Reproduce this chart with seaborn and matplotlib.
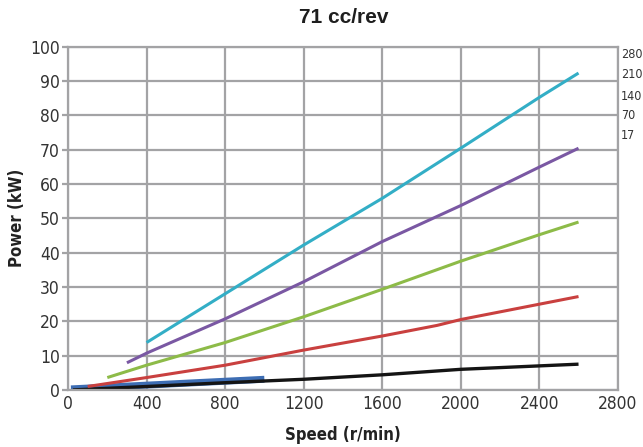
import matplotlib
matplotlib.use("Agg")
import matplotlib.pyplot as plt
from matplotlib import font_manager
import numpy as np
import pandas as pd
import seaborn as sns

# Power curves at several pressures (speed in r/min, power in kW)
speed_280 = [400, 1200, 1600, 2000, 2400, 2600]
power_280 = [13.8, 42.2, 55.8, 70.4, 85.2, 92.3]

speed_210 = [300, 400, 800, 1200, 1600, 2000, 2400, 2600]
power_210 = [7.9, 10.7, 20.7, 31.5, 43.2, 53.7, 64.9, 70.4]

speed_140 = [200, 400, 800, 1200, 1600, 2000, 2400, 2600]
power_140 = [3.6, 7.2, 13.8, 21.3, 29.3, 37.5, 45.2, 48.9]

speed_70 = [100, 400, 800, 1200, 1600, 1880, 2000, 2600]
power_70 = [1.0, 3.6, 7.2, 11.6, 15.7, 18.8, 20.5, 27.2]

speed_17 = [25, 400, 800, 1200, 1600, 2000, 2600]
power_17 = [0.0, 1.0, 2.1, 3.1, 4.4, 6.0, 7.5]

speed_low = [15, 1000]
power_low = [0.3, 3.1]

pressure_labels = ["280", "210", "140", "70", "17"]
x_ticks = [0, 400, 800, 1200, 1600, 2000, 2400, 2800]
y_ticks = [0, 10, 20, 30, 40, 50, 60, 70, 80, 90, 100]

sns.set_theme(style="white")

names = {f.name for f in font_manager.fontManager.ttflist}
if "Liberation Sans Narrow" in names:
    narrow = dict(family="Liberation Sans Narrow")
else:
    narrow = dict(family="DejaVu Sans", stretch="condensed")

fig = plt.figure(figsize=(6.43, 4.47), dpi=100)
ax = fig.add_axes([0.1058, 0.1277, 0.855, 0.768])

grid_c = "#a3a3a5"
ax.set_xlim(0, 2800)
ax.set_ylim(0, 100)
ax.set_xticks(x_ticks)
ax.set_yticks(y_ticks)
ax.grid(True, color=grid_c, linewidth=1.6)
for s in ax.spines.values():
    s.set_color(grid_c)
    s.set_linewidth(1.6)
ax.tick_params(axis="y", length=4, width=1.6, color=grid_c, direction="out", left=True, pad=2)
ax.tick_params(axis="x", length=0, pad=4)

series = [
    (speed_low, power_low, "#3d6db3", 5.0),
    (speed_17, power_17, "#141414", 2.4),
    (speed_70, power_70, "#c9403f", 2.2),
    (speed_140, power_140, "#8dbb48", 2.2),
    (speed_210, power_210, "#7a58a3", 2.2),
    (speed_280, power_280, "#33aec6", 2.2),
]
for xs, ys, col, lw in series:
    df = pd.DataFrame({"speed": xs, "power": ys})
    sns.lineplot(data=df, x="speed", y="power", color=col, linewidth=lw,
                 ax=ax, solid_capstyle="butt", sort=False)

ax.set_xlabel("Speed (r/min)", fontsize=12, fontweight="bold", labelpad=9,
              color="#222222", **narrow)
ax.set_ylabel("Power (kW)", fontsize=12, fontweight="bold", labelpad=3,
              color="#222222", **narrow)
tick_font = font_manager.FontProperties(size=12.5, **narrow)
for lab in ax.get_xticklabels() + ax.get_yticklabels():
    lab.set_fontproperties(tick_font)
    lab.set_color("#333333")

fig.text(0.534, 0.961, "71 cc/rev", ha="center", va="center",
         fontsize=15, fontweight="bold", color="#1e1e1e", family="Liberation Sans")

label_y = [55, 75, 97, 116, 136]
for txt, py in zip(pressure_labels, label_y):
    fig.text(621 / 643, 1 - py / 447, txt, ha="left", va="center",
             fontsize=9, color="#333333", **narrow)

fig.savefig("out.png", dpi=100)
